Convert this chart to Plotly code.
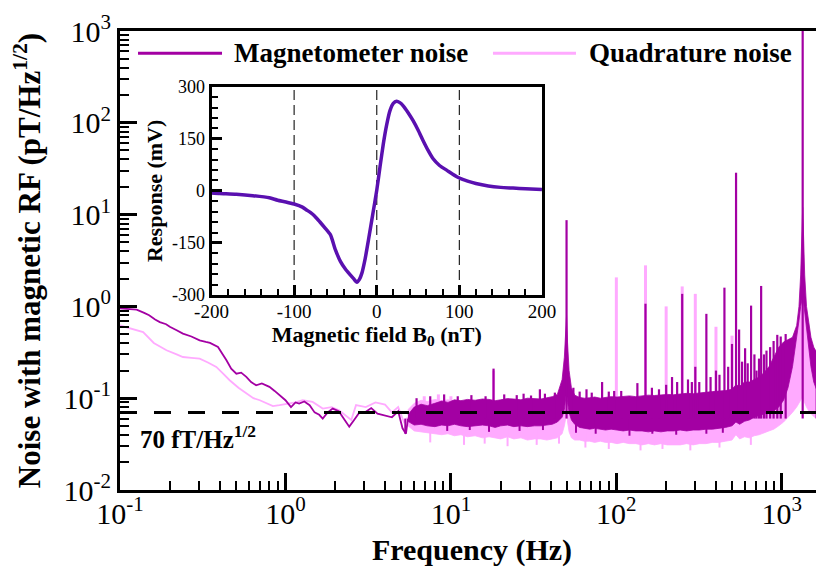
import plotly.graph_objects as go

# ---------------- data ----------------
# low-frequency part of the spectra (single line)
lf_freq_mag = [0.1, 0.113, 0.126, 0.14, 0.15, 0.163, 0.174, 0.19, 0.2, 0.22, 0.24, 0.27, 0.303, 0.33, 0.35,
               0.391, 0.42, 0.44, 0.47, 0.505, 0.54, 0.58, 0.62, 0.665, 0.72, 0.8, 0.86, 0.92, 1.0, 1.08,
               1.15, 1.21, 1.3, 1.4, 1.5, 1.6, 1.68, 1.8, 1.93, 2.1, 2.25, 2.43, 2.6, 2.8, 3.06, 3.3, 3.6, 4.0,
               4.4, 4.8, 5.1, 5.35, 5.5]
lf_mag = [0.95, 0.94, 0.92, 0.85, 0.80, 0.72, 0.674, 0.64, 0.60, 0.55, 0.505, 0.47, 0.427, 0.41, 0.40,
          0.361, 0.30, 0.259, 0.21, 0.185, 0.19, 0.171, 0.15, 0.138, 0.145, 0.133, 0.12, 0.108, 0.095, 0.080,
          0.09, 0.0875, 0.092, 0.084, 0.07, 0.066, 0.060, 0.07, 0.077, 0.072, 0.06, 0.049, 0.058, 0.07, 0.071,
          0.078, 0.068, 0.065, 0.062, 0.072, 0.047, 0.041, 0.06]

lf_freq_quad = [0.1, 0.12, 0.138, 0.16, 0.191, 0.22, 0.24, 0.27, 0.303, 0.34, 0.382, 0.42, 0.46, 0.52, 0.58,
                0.64, 0.70, 0.77, 0.84, 0.92, 1.01, 1.15, 1.27, 1.46, 1.68, 1.9, 2.11, 2.3, 2.5, 2.67, 3.06,
                3.5, 4.0, 4.4, 4.8, 5.2, 5.5]
lf_quad = [0.62, 0.57, 0.526, 0.40, 0.333, 0.30, 0.281, 0.275, 0.270, 0.245, 0.219, 0.185, 0.157, 0.13, 0.112,
           0.10, 0.095, 0.088, 0.082, 0.084, 0.086, 0.09, 0.095, 0.091, 0.077, 0.08, 0.074, 0.065, 0.058, 0.084,
           0.080, 0.09, 0.085, 0.07, 0.08, 0.055, 0.062]

# dense noise band above ~5.5 Hz: upper / lower envelopes
band_freq = [5.5, 6, 6.6, 7.2, 8, 8.8, 9.6, 10.5, 11.5, 12.6,
             14, 15.5, 17, 18.5, 20, 22, 24, 26.5, 29, 32,
             35, 38, 41, 44, 47, 48.5, 49.4, 50, 50.7, 51.8,
             53.5, 56, 60, 64, 69, 74, 80, 86, 93, 101,
             110, 120, 131, 143, 156, 170, 186, 203, 222, 243,
             266, 291, 318, 348, 381, 417, 456,
             500, 528, 556, 595, 637, 682, 730, 781, 836, 895,
             958, 1025, 1090, 1160, 1230, 1270, 1300, 1320, 1330, 1337,
             1344, 1355, 1375, 1410, 1460, 1500, 1560, 1632, 1718, 1800]
mag_upper = [0.066, 0.08, 0.086, 0.083, 0.088, 0.093, 0.09, 0.096, 0.094, 0.097,
             0.095, 0.098, 0.097, 0.094, 0.096, 0.099, 0.098, 0.096, 0.1, 0.099,
             0.098, 0.101, 0.104, 0.11, 0.16, 0.28, 0.6, 0.8, 0.4, 0.2,
             0.13, 0.108, 0.102, 0.1, 0.101, 0.103, 0.1, 0.102, 0.104, 0.103,
             0.105, 0.106, 0.104, 0.107, 0.108, 0.107, 0.109, 0.11, 0.109, 0.112,
             0.113, 0.112, 0.115, 0.116, 0.118, 0.119, 0.121,
             0.125, 0.14, 0.135, 0.15, 0.15, 0.16, 0.17, 0.19, 0.22, 0.28,
             0.36, 0.41, 0.43, 0.46, 0.62, 1.0, 2.2, 4.5, 9.0, 12.0,
             9.0, 4.5, 2.2, 1.0, 0.6, 0.46, 0.36, 0.31, 0.28, 0.27]
mag_lower = [0.056, 0.051, 0.052, 0.05, 0.049, 0.051, 0.05, 0.052, 0.05, 0.049,
             0.05, 0.051, 0.05, 0.048, 0.05, 0.051, 0.049, 0.05, 0.049, 0.05,
             0.05, 0.051, 0.052, 0.055, 0.062, 0.075, 0.1, 0.12, 0.09, 0.07,
             0.058, 0.052, 0.048, 0.047, 0.046, 0.047, 0.046, 0.045, 0.046, 0.045,
             0.044, 0.045, 0.044, 0.044, 0.043, 0.044, 0.043, 0.044, 0.044, 0.045,
             0.044, 0.045, 0.045, 0.046, 0.046, 0.047, 0.048,
             0.05, 0.055, 0.052, 0.056, 0.058, 0.062, 0.065, 0.068, 0.07, 0.073,
             0.08, 0.095, 0.13, 0.22, 0.45, 0.7, 1.0, 1.2, 1.25, 1.3,
             1.25, 1.2, 1.0, 0.6, 0.35, 0.22, 0.15, 0.12, 0.095, 0.085]
quad_upper = [0.075, 0.088, 0.095, 0.092, 0.097, 0.094, 0.096, 0.092, 0.093, 0.09,
              0.091, 0.089, 0.09, 0.088, 0.088, 0.087, 0.088, 0.086, 0.087, 0.086,
              0.086, 0.087, 0.088, 0.09, 0.1, 0.115, 0.13, 0.14, 0.115, 0.095,
              0.087, 0.085, 0.084, 0.084, 0.083, 0.083, 0.083, 0.082, 0.082, 0.082,
              0.081, 0.081, 0.08, 0.08, 0.08, 0.079, 0.079, 0.078, 0.078, 0.077,
              0.077, 0.076, 0.076, 0.075, 0.075, 0.074, 0.072,
              0.07, 0.075, 0.07, 0.072, 0.074, 0.077, 0.08, 0.086, 0.09, 0.1,
              0.12, 0.15, 0.2, 0.28, 0.5, 0.8, 1.1, 1.25, 1.3, 1.35,
              1.3, 1.25, 1.1, 0.7, 0.4, 0.27, 0.19, 0.15, 0.13, 0.12]
quad_lower = [0.05, 0.044, 0.043, 0.042, 0.041, 0.04, 0.041, 0.039, 0.04, 0.038,
              0.039, 0.037, 0.038, 0.037, 0.036, 0.038, 0.036, 0.037, 0.035, 0.036,
              0.036, 0.035, 0.036, 0.037, 0.041, 0.05, 0.06, 0.075, 0.055, 0.043,
              0.037, 0.035, 0.035, 0.034, 0.034, 0.033, 0.034, 0.033, 0.033, 0.032,
              0.033, 0.032, 0.032, 0.031, 0.032, 0.031, 0.032, 0.031, 0.031, 0.031,
              0.032, 0.031, 0.032, 0.032, 0.033, 0.033, 0.034,
              0.035, 0.04, 0.036, 0.038, 0.037, 0.039, 0.04, 0.042, 0.044, 0.046,
              0.05, 0.055, 0.062, 0.07, 0.08, 0.088, 0.095, 0.1, 0.1, 0.1,
              0.1, 0.098, 0.09, 0.08, 0.072, 0.068, 0.063, 0.06, 0.055, 0.052]

# narrow spectral lines (frequency, peak height)
mag_spike_freq = [6.2, 7.5, 9.1, 11, 13.3, 16.2, 18.1, 21, 25, 27.5, 30.5, 34.5, 37, 42.5, 50, 55, 60, 66, 71,
                  82, 90, 97, 107, 134, 150, 164, 181, 200, 217, 233, 250, 271, 286, 300, 317, 350, 371,
                  400, 420, 450, 474, 500, 529, 552, 575, 600, 622, 652, 683, 703, 728, 750, 780, 808, 850,
                  892, 939, 985, 1055, 1337, 1625, 1742]
mag_spike_peak = [0.1, 0.105, 0.11, 0.105, 0.108, 0.105, 0.21, 0.11, 0.108, 0.112, 0.107, 0.125, 0.112, 0.115,
                  8.7, 0.13, 0.118, 0.125, 0.115, 0.15, 0.118, 0.12, 0.12, 0.146, 1.07, 0.13, 0.125, 0.14,
                  0.17, 0.15, 1.37, 0.16, 0.15, 0.22, 0.15, 0.83, 0.17, 0.2, 0.18, 1.6, 0.22, 0.39, 28.6,
                  0.56, 0.25, 0.35, 0.24, 1.02, 0.3, 0.2, 0.27, 1.67, 0.3, 0.33, 0.36, 0.42, 0.49, 0.47,
                  0.5, 2000, 0.33, 0.32]
quad_spike_freq = [6.9, 8.4, 10, 18.1, 100, 150, 200, 250, 300, 400, 500]
quad_spike_peak = [0.105, 0.11, 0.105, 0.2, 2.07, 2.8, 1.0, 1.65, 1.37, 0.6, 0.48]
# downward excursions on the lower edge of each band
mag_dip_freq = [5.3, 9.5, 13, 17, 26, 36, 57, 75, 120, 165, 230, 350, 440]
mag_dip_low = [0.041, 0.044, 0.045, 0.043, 0.044, 0.045, 0.042, 0.041, 0.039, 0.041, 0.04, 0.041, 0.042]
quad_dip_freq = [7.5, 12, 16, 22, 33, 45, 65, 90, 140, 190, 280, 420, 650]
quad_dip_low = [0.033, 0.031, 0.032, 0.03, 0.031, 0.032, 0.029, 0.028, 0.027, 0.028, 0.027, 0.029, 0.031]
spike_base = 0.06

floor_level = 0.07          # 70 fT/Hz^1/2 reference line

# inset: magnetometer response vs. bias field
inset_field = [-200, -190, -170, -150, -130, -120, -110, -100, -90, -85, -80, -75, -69, -63, -56, -50, -44,
               -38, -32, -28, -24, -21, -18, -14, -10, -5, 0, 4, 8, 12, 16, 20, 24, 28, 32, 38, 44, 50, 56,
               62, 68, 76, 85, 92, 100, 110, 120, 135, 150, 165, 180, 200]
inset_response = [-6, -7.6, -10, -14, -20, -27, -32, -38, -47, -55, -63, -73, -89, -106, -127, -170, -203,
                  -225, -242, -253, -263, -255, -237, -195, -141, -70, 2, 70, 136, 190, 231, 252, 258, 254,
                  245, 225, 202, 175, 145, 117, 93, 73, 59, 48, 37, 28, 21, 14, 10, 8, 6, 4]
inset_marker_fields = [-100, 0, 100]
inset_y_limits = [-300, 300]

# tick labels
x_tick_vals = [0.1, 1, 10, 100, 1000]
x_tick_text = ["10<sup>-1</sup>", "10<sup>0</sup>", "10<sup>1</sup>", "10<sup>2</sup>", "10<sup>3</sup>"]
y_tick_vals = [0.01, 0.1, 1, 10, 100, 1000]
y_tick_text = ["10<sup>-2</sup>", "10<sup>-1</sup>", "10<sup>0</sup>", "10<sup>1</sup>", "10<sup>2</sup>",
               "10<sup>3</sup>"]
inset_x_vals = [-200, -100, 0, 100, 200]
inset_x_text = ["-200", "-100", "0", "100", "200"]
inset_y_vals = [-300, -150, 0, 150, 300]
inset_y_text = ["-300", "-150", "0", "150", "300"]

for arr in (mag_upper, mag_lower, quad_upper, quad_lower):
    assert len(arr) == len(band_freq), (len(arr), len(band_freq))
assert len(mag_spike_freq) == len(mag_spike_peak)
assert len(quad_spike_freq) == len(quad_spike_peak)
assert len(mag_dip_freq) == len(mag_dip_low) and len(quad_dip_freq) == len(quad_dip_low)
assert len(inset_field) == len(inset_response)
assert len(lf_freq_mag) == len(lf_mag) and len(lf_freq_quad) == len(lf_quad)

# ---------------- styles ----------------
MAG = "#a300a3"
QUAD = "#ffaaff"
INSET = "#5a10b0"
FONT = "Liberation Serif"


def spikes(freqs, peaks, base):
    xs, ys = [], []
    for f, p in zip(freqs, peaks):
        xs += [f, f, None]
        ys += [base, p, None]
    return xs, ys


def band(freqs, upper, lower):
    return list(freqs) + list(freqs)[::-1], list(upper) + list(lower)[::-1]


fig = go.Figure()

# quadrature (drawn first, underneath)
bx, by = band(band_freq, quad_upper, quad_lower)
fig.add_trace(go.Scatter(x=bx, y=by, fill="toself", fillcolor=QUAD, mode="lines",
                         line=dict(color=QUAD, width=0.8), hoverinfo="skip", name="Quadrature noise"))
sx, sy = spikes(quad_dip_freq, quad_dip_low, spike_base)
fig.add_trace(go.Scatter(x=sx, y=sy, mode="lines", line=dict(color=QUAD, width=2), name="Quadrature noise"))
fig.add_trace(go.Scatter(x=lf_freq_quad, y=lf_quad, mode="lines", line=dict(color=QUAD, width=1.8),
                         name="Quadrature noise"))
sx, sy = spikes(quad_spike_freq, quad_spike_peak, spike_base)
fig.add_trace(go.Scatter(x=sx, y=sy, mode="lines", line=dict(color=QUAD, width=3), name="Quadrature noise"))

# magnetometer
bx, by = band(band_freq, mag_upper, mag_lower)
fig.add_trace(go.Scatter(x=bx, y=by, fill="toself", fillcolor=MAG, mode="lines",
                         line=dict(color=MAG, width=0.8), hoverinfo="skip", name="Magnetometer noise"))
sx, sy = spikes(mag_dip_freq, mag_dip_low, spike_base)
fig.add_trace(go.Scatter(x=sx, y=sy, mode="lines", line=dict(color=MAG, width=2), name="Magnetometer noise"))
fig.add_trace(go.Scatter(x=lf_freq_mag, y=lf_mag, mode="lines", line=dict(color=MAG, width=1.8),
                         name="Magnetometer noise"))
sx, sy = spikes(mag_spike_freq, mag_spike_peak, spike_base)
fig.add_trace(go.Scatter(x=sx, y=sy, mode="lines", line=dict(color=MAG, width=2.2), name="Magnetometer noise"))

# 70 fT/Hz^1/2 line
fig.add_trace(go.Scatter(x=[lf_freq_mag[0], band_freq[-1]], y=[floor_level, floor_level], mode="lines",
                         line=dict(color="black", width=3, dash="17px,17px"), name="70 fT/Hz^1/2"))

# inset
vx, vy = [], []
for b in inset_marker_fields:
    vx += [b, b, None]
    vy += [inset_y_limits[0], inset_y_limits[1], None]
fig.add_trace(go.Scatter(x=vx, y=vy, mode="lines", line=dict(color="#222222", width=1.2, dash="10px,5px"),
                         xaxis="x2", yaxis="y2", name="markers"))
fig.add_trace(go.Scatter(x=inset_field, y=inset_response, mode="lines",
                         line=dict(color=INSET, width=3.5, shape="spline", smoothing=0.6),
                         xaxis="x2", yaxis="y2", name="Response"))

minor_x = [d * m for d in [0.1, 1, 10, 100, 1000] for m in range(2, 10)]
minor_y = [d * m for d in [0.01, 0.1, 1, 10, 100] for m in range(2, 10)]
minor_ix = [v for v in range(-180, 200, 20) if v % 100 != 0]
minor_iy = [v for v in range(-270, 300, 30) if v % 150 != 0]

axis_common = dict(showline=True, linewidth=3, linecolor="black", showgrid=False, zeroline=False,
                   ticks="inside", tickcolor="black", automargin=False)

# the page has an 8px body margin, so the figure is 8px smaller than the window
fig.update_layout(
    width=816, height=564, template="none",
    margin=dict(l=112, r=0, t=23, b=82),
    paper_bgcolor="white", plot_bgcolor="white", showlegend=False,
    font=dict(family=FONT, color="black"),
    xaxis=dict(type="log", range=[-1, 3.255], tickmode="array", tickvals=x_tick_vals, ticktext=x_tick_text,
               ticklen=17, tickwidth=3, mirror=True, tickfont=dict(size=30, family=FONT),
               ticklabelstandoff=-5,
               minor=dict(tickmode="array", tickvals=minor_x, ticks="inside", ticklen=9, tickwidth=1.5,
                          tickcolor="black", showgrid=False),
               title=dict(text="Frequency (Hz)", font=dict(size=30, family=FONT, weight="bold"), standoff=10),
               **axis_common),
    yaxis=dict(type="log", range=[-2, 3], tickmode="array", tickvals=y_tick_vals, ticktext=y_tick_text,
               ticklen=17, tickwidth=3, tickfont=dict(size=30, family=FONT),
               minor=dict(tickmode="array", tickvals=minor_y, ticks="inside", ticklen=9, tickwidth=1.5,
                          tickcolor="black", showgrid=False),
               title=dict(text="Noise with magnetic RF (pT/Hz<sup>1/2</sup>)",
                          font=dict(size=31, family=FONT, weight="bold"), standoff=16),
               **axis_common),
    xaxis2=dict(domain=[0.130, 0.5994], anchor="y2", range=[-200, 200], tickmode="array",
                tickvals=inset_x_vals, ticktext=inset_x_text, ticklen=10, tickwidth=3, mirror=True,
                tickfont=dict(size=19, family=FONT), ticklabelstandoff=-3,
                minor=dict(tickmode="array", tickvals=minor_ix, ticks="inside", ticklen=6, tickwidth=1.5,
                           tickcolor="black", showgrid=False),
                title=dict(text="Magnetic field B<sub>0</sub> (nT)",
                           font=dict(size=22, family=FONT, weight="bold"), standoff=0),
                **axis_common),
    yaxis2=dict(domain=[0.4248, 0.8787], anchor="x2", range=[-300, 300], tickmode="array",
                tickvals=inset_y_vals, ticktext=inset_y_text, ticklen=10, tickwidth=3, mirror=True,
                tickfont=dict(size=18, family=FONT),
                minor=dict(tickmode="array", tickvals=minor_iy, ticks="inside", ticklen=6, tickwidth=1.5,
                           tickcolor="black", showgrid=False),
                title=dict(text="Response (mV)", font=dict(size=22, family=FONT, weight="bold"), standoff=4),
                **axis_common),
)

# legend drawn by hand (long line samples as in the reference)
legend_y = 0.9514
fig.add_shape(type="line", xref="paper", yref="paper", x0=0.0256, x1=0.1449, y0=legend_y, y1=legend_y,
              line=dict(color=MAG, width=3))
fig.add_shape(type="line", xref="paper", yref="paper", x0=0.5298, x1=0.6477, y0=legend_y, y1=legend_y,
              line=dict(color=QUAD, width=3))
fig.add_annotation(text="Magnetometer noise", xref="paper", yref="paper", x=0.159, y=legend_y,
                   xanchor="left", yanchor="middle", showarrow=False,
                   font=dict(size=27, family=FONT, weight="bold", color="black"))
fig.add_annotation(text="Quadrature noise", xref="paper", yref="paper", x=0.6634, y=legend_y,
                   xanchor="left", yanchor="middle", showarrow=False,
                   font=dict(size=27, family=FONT, weight="bold", color="black"))
fig.add_annotation(text="70 fT/Hz<sup>1/2</sup>", xref="paper", yref="paper", x=0.0256, y=0.115,
                   xanchor="left", yanchor="middle", showarrow=False,
                   font=dict(size=25, family=FONT, weight="bold", color="black"))

fig.write_html("out.html")
